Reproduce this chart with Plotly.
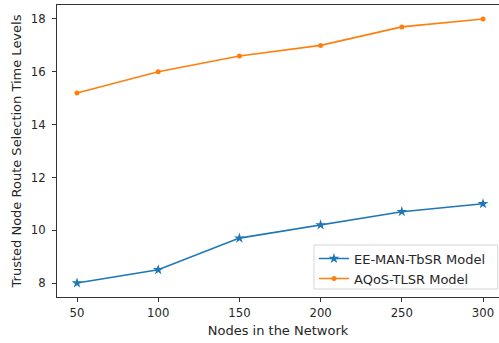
import plotly.graph_objects as go

nodes = [50, 100, 150, 200, 250, 300]
ee_man_tbsr = [8.0, 8.5, 9.7, 10.2, 10.7, 11.0]
aqos_tlsr = [15.2, 16.0, 16.6, 17.0, 17.7, 18.0]
x_ticks = [50, 100, 150, 200, 250, 300]
y_ticks = [8, 10, 12, 14, 16, 18]

FONT = "DejaVu Sans"
TXT = "#262626"

fig = go.Figure()
fig.add_trace(go.Scatter(
    x=nodes, y=ee_man_tbsr, mode="lines+markers", name="EE-MAN-TbSR Model",
    line=dict(color="#1f77b4", width=1.6),
    marker=dict(symbol="star", size=8, color="#1f77b4"),
))
fig.add_trace(go.Scatter(
    x=nodes, y=aqos_tlsr, mode="lines+markers", name="AQoS-TLSR Model",
    line=dict(color="#ff7f0e", width=1.6),
    marker=dict(symbol="circle", size=5, color="#ff7f0e"),
))

# legend frame (light rounded-look box like matplotlib)
fig.add_shape(type="rect", xref="paper", yref="paper",
              x0=0.5814, x1=0.997, y0=0.0274, y1=0.178,
              line=dict(color="#d6d6d6", width=1), fillcolor="rgba(255,255,255,0.8)",
              layer="above")

fig.update_layout(
    width=499, height=343,
    margin=dict(l=57, r=0, t=5, b=46),
    paper_bgcolor="white", plot_bgcolor="white",
    font=dict(family=FONT, color=TXT, size=13),
    showlegend=True,
    legend=dict(
        x=0.5814, y=0.0116, xanchor="left", yanchor="bottom",
        bgcolor="rgba(0,0,0,0)", borderwidth=0,
        font=dict(family=FONT, size=13, color=TXT),
        tracegroupgap=0,
    ),
    xaxis=dict(
        range=[37.68, 309.85], tickvals=x_ticks,
        showgrid=False, zeroline=False,
        showline=True, linecolor="#333333", linewidth=1, mirror=True,
        ticks="outside", ticklen=4, tickcolor="#333333",
        tickfont=dict(family=FONT, size=11.7, color=TXT),
        ticklabelstandoff=1,
        title=dict(text="Nodes in the Network", font=dict(family=FONT, size=13, color=TXT), standoff=6),
    ),
    yaxis=dict(
        range=[7.47, 18.53], tickvals=y_ticks,
        showgrid=False, zeroline=False,
        showline=True, linecolor="#333333", linewidth=1, mirror=False,
        ticks="outside", ticklen=4, tickcolor="#333333",
        tickfont=dict(family=FONT, size=11.7, color=TXT),
        ticklabelstandoff=4,
        title=dict(text="Trusted Node Route Selection Time Levels", font=dict(family=FONT, size=13, color=TXT), standoff=6),
    ),
)

fig.write_html("out.html")
